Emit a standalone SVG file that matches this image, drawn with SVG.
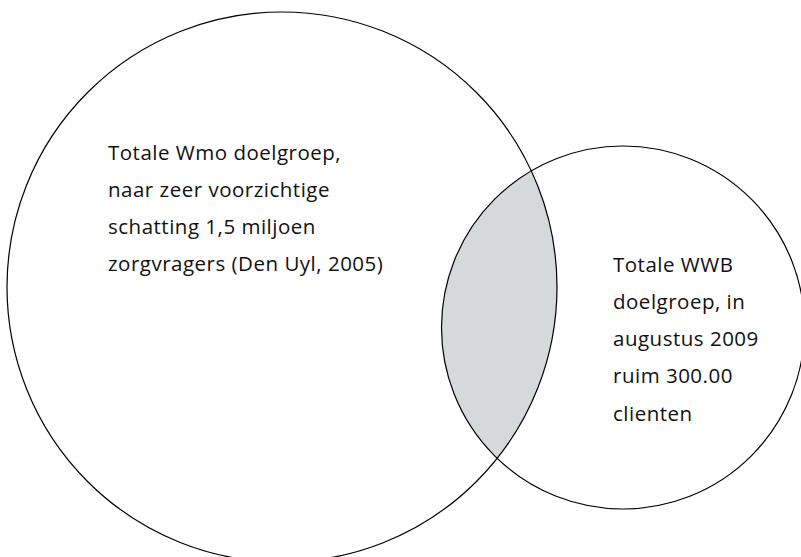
<svg xmlns="http://www.w3.org/2000/svg" width="801" height="557" viewBox="0 0 801 557">
  <style>
    .ring { fill: none; stroke: #000; stroke-width: 1.2; }
    .lbl { font-family: "Open Sans", "Noto Sans", "DejaVu Sans", sans-serif; font-size: 20.5px; letter-spacing: 0.5px; fill: #111; }
  </style>
  <defs>
    <clipPath id="clipBig">
      <circle cx="282" cy="287" r="275"/>
    </clipPath>
  </defs>
  <rect width="801" height="557" fill="#fff"/>
  <g id="overlap">
    <circle cx="623" cy="327.5" r="181.5" fill="#d6d9da" clip-path="url(#clipBig)"/>
  </g>
  <g id="wmo">
    <circle class="ring" cx="282" cy="287" r="275"/>
    <text class="lbl" x="108" y="160">Totale Wmo doelgroep,</text>
    <text class="lbl" x="108" y="197">naar zeer voorzichtige</text>
    <text class="lbl" x="108" y="234">schatting 1,5 miljoen</text>
    <text class="lbl" x="108" y="271">zorgvragers (Den Uyl, 2005)</text>
  </g>
  <g id="wwb">
    <circle class="ring" cx="623" cy="327.5" r="181.5"/>
    <text class="lbl" x="613" y="271.5">Totale WWB</text>
    <text class="lbl" x="613" y="308.5">doelgroep, in</text>
    <text class="lbl" x="613" y="346">augustus 2009</text>
    <text class="lbl" x="613" y="383">ruim 300.00</text>
    <text class="lbl" x="613" y="420.5">clienten</text>
  </g>
  <g id="connectors"></g>
</svg>
